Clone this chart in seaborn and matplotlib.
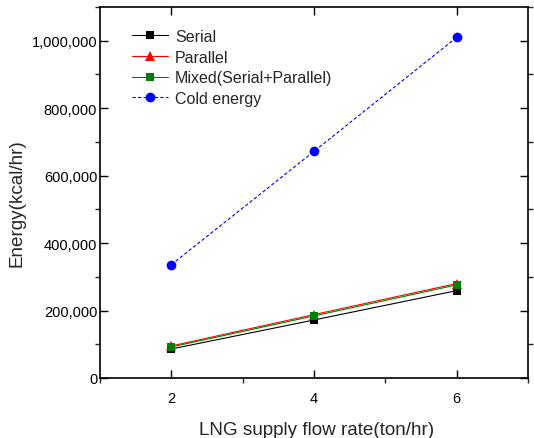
import matplotlib
matplotlib.use("Agg")
import matplotlib.pyplot as plt
import seaborn as sns
import pandas as pd
from matplotlib.ticker import FuncFormatter, MultipleLocator

flow = [2, 4, 6]
serial = [86000, 172000, 259000]
parallel = [95000, 188000, 280000]
mixed = [92000, 184000, 276000]
cold = [336000, 672000, 1010000]

sns.set_style("ticks")
plt.rcParams['font.family'] = ['Liberation Sans', 'DejaVu Sans']

fig = plt.figure(figsize=(5.34, 4.39), dpi=100)
ax = fig.add_axes([0.1873, 0.1367, 0.8015, 0.8451])

series = [
    ("Serial", serial, "black", "s", 6.3, "-", 0.8),
    ("Parallel", parallel, "red", "^", 7.5, "-", 0.8),
    ("Mixed(Serial+Parallel)", mixed, "green", "s", 5.8, "-", 0.8),
    ("Cold energy", cold, "blue", "o", 7, (0, (3, 2)), 0.8),
]
for name, vals, col, mk, ms, ls, lw in series:
    df = pd.DataFrame({"x": flow, "y": vals})
    sns.lineplot(data=df, x="x", y="y", ax=ax, color=col, marker=mk,
                 markersize=ms, markeredgewidth=0, linestyle=ls,
                 linewidth=lw, label=name)

ax.set_xlim(1, 7)
ax.set_ylim(0, 1100000)
ax.xaxis.set_major_locator(MultipleLocator(2))
ax.xaxis.set_minor_locator(MultipleLocator(1))
ax.yaxis.set_major_locator(MultipleLocator(200000))
ax.yaxis.set_minor_locator(MultipleLocator(100000))
ax.yaxis.set_major_formatter(FuncFormatter(lambda v, p: f"{int(v):,}"))

ax.tick_params(axis='both', which='major', direction='out', length=5.8, width=1,
               labelsize=10.5, colors='black')
ax.tick_params(axis='both', which='minor', direction='out', length=3.6, width=1)
ax.tick_params(axis='x', which='major', pad=9.5)
ax.tick_params(axis='y', which='major', pad=2)
ax.tick_params(right=True, which='both')
ax.tick_params(top=True, which='major', direction='in')
ax.tick_params(axis='x', which='minor', top=False)
for s in ax.spines.values():
    s.set_visible(True)
    s.set_linewidth(1.2)
    s.set_color('black')

ax.set_xlabel("LNG supply flow rate(ton/hr)", fontsize=13.6)
ax.set_ylabel("Energy(kcal/hr)", fontsize=13.6)
ax.xaxis.set_label_coords(0.505, -0.115)
ax.yaxis.set_label_coords(-0.175, 0.474)

leg = ax.legend(loc='upper left', bbox_to_anchor=(0.06, 0.958), frameon=False,
                fontsize=11.5, handlelength=2.25, handletextpad=0.45,
                labelspacing=0.35, borderaxespad=0)

fig.savefig("out.png", dpi=100)
